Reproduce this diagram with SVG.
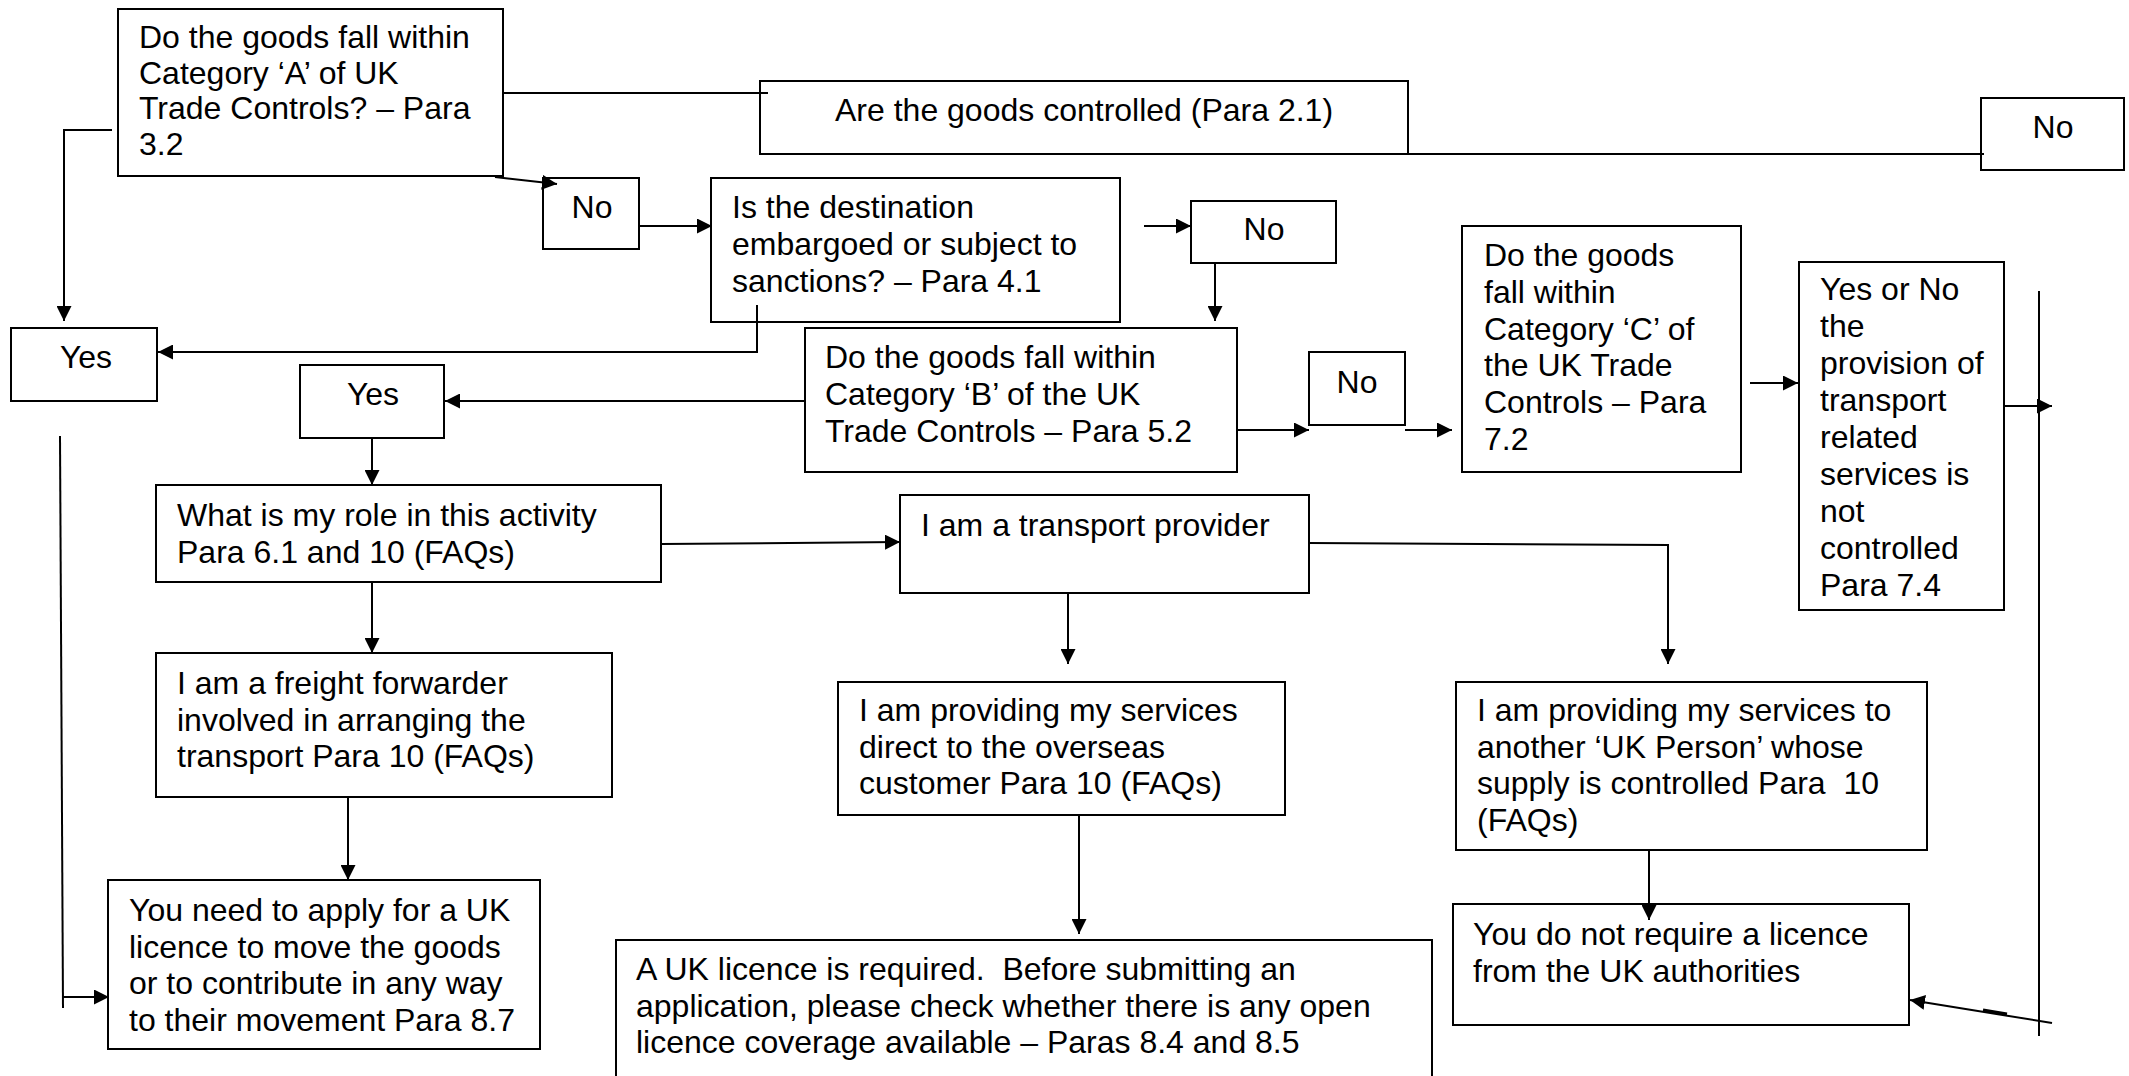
<svg xmlns="http://www.w3.org/2000/svg" width="2129" height="1076" viewBox="0 0 2129 1076">
<style>
.box{fill:#fff;stroke:#000;stroke-width:2}
.t{font-family:"Liberation Sans",Arial,sans-serif;font-size:32px;fill:#000}
.c{text-anchor:middle}
.ln{fill:none;stroke:#000;stroke-width:2}
.ar{marker-end:url(#arr)}
</style>
<defs>
<marker id="arr" markerUnits="userSpaceOnUse" markerWidth="15" markerHeight="15" refX="15" refY="7.5" orient="auto">
<path d="M0,0 L15,7.5 L0,15 Z" fill="#000"/>
</marker>
</defs>
<rect width="2129" height="1076" fill="#fff"/>

<g id="n-catA">
<rect class="box" x="118" y="9" width="385" height="167"/>
<text class="t" x="139" y="48"><tspan x="139">Do the goods fall within</tspan><tspan x="139" dy="35.5">Category ‘A’ of UK</tspan><tspan x="139" dy="35.5">Trade Controls? – Para</tspan><tspan x="139" dy="35.5">3.2</tspan></text>
</g>

<g id="n-controlled">
<rect class="box" x="760" y="81" width="648" height="73"/>
<text class="t" x="835" y="121">Are the goods controlled (Para 2.1)</text>
</g>

<g id="n-no-top">
<rect class="box" x="1981" y="98" width="143" height="72"/>
<text class="t c" x="2053" y="138">No</text>
</g>

<g id="n-no1">
<rect class="box" x="543" y="178" width="96" height="71"/>
<text class="t c" x="592" y="218">No</text>
</g>

<g id="n-dest">
<rect class="box" x="711" y="178" width="409" height="144"/>
<text class="t" x="732" y="218"><tspan x="732">Is the destination</tspan><tspan x="732" dy="37">embargoed or subject to</tspan><tspan x="732" dy="37">sanctions? – Para 4.1</tspan></text>
</g>

<g id="n-no2">
<rect class="box" x="1191" y="201" width="145" height="62"/>
<text class="t c" x="1264" y="240">No</text>
</g>

<g id="n-yes1">
<rect class="box" x="11" y="328" width="146" height="73"/>
<text class="t c" x="86" y="368">Yes</text>
</g>

<g id="n-yes2">
<rect class="box" x="300" y="365" width="144" height="73"/>
<text class="t c" x="373" y="405">Yes</text>
</g>

<g id="n-catB">
<rect class="box" x="805" y="328" width="432" height="144"/>
<text class="t" x="825" y="368"><tspan x="825">Do the goods fall within</tspan><tspan x="825" dy="37">Category ‘B’ of the UK</tspan><tspan x="825" dy="37">Trade Controls – Para 5.2</tspan></text>
</g>

<g id="n-no3">
<rect class="box" x="1309" y="352" width="96" height="73"/>
<text class="t c" x="1357" y="393">No</text>
</g>

<g id="n-catC">
<rect class="box" x="1462" y="226" width="279" height="246"/>
<text class="t" x="1484" y="266"><tspan x="1484">Do the goods</tspan><tspan x="1484" dy="36.8">fall within</tspan><tspan x="1484" dy="36.8">Category ‘C’ of</tspan><tspan x="1484" dy="36.8">the UK Trade</tspan><tspan x="1484" dy="36.8">Controls – Para</tspan><tspan x="1484" dy="36.8">7.2</tspan></text>
</g>

<g id="n-yesno">
<rect class="box" x="1799" y="262" width="205" height="348"/>
<text class="t" x="1820" y="300"><tspan x="1820">Yes or No</tspan><tspan x="1820" dy="37">the</tspan><tspan x="1820" dy="37">provision of</tspan><tspan x="1820" dy="37">transport</tspan><tspan x="1820" dy="37">related</tspan><tspan x="1820" dy="37">services is</tspan><tspan x="1820" dy="37">not</tspan><tspan x="1820" dy="37">controlled</tspan><tspan x="1820" dy="37">Para 7.4</tspan></text>
</g>

<g id="n-role">
<rect class="box" x="156" y="485" width="505" height="97"/>
<text class="t" x="177" y="526"><tspan x="177">What is my role in this activity</tspan><tspan x="177" dy="36.5">Para 6.1 and 10 (FAQs)</tspan></text>
</g>

<g id="n-transport">
<rect class="box" x="900" y="495" width="409" height="98"/>
<text class="t" x="921" y="536">I am a transport provider</text>
</g>

<g id="n-freight">
<rect class="box" x="156" y="653" width="456" height="144"/>
<text class="t" x="177" y="694"><tspan x="177">I am a freight forwarder</tspan><tspan x="177" dy="36.7">involved in arranging the</tspan><tspan x="177" dy="36.7">transport Para 10 (FAQs)</tspan></text>
</g>

<g id="n-direct">
<rect class="box" x="838" y="682" width="447" height="133"/>
<text class="t" x="859" y="721"><tspan x="859">I am providing my services</tspan><tspan x="859" dy="36.7">direct to the overseas</tspan><tspan x="859" dy="36.7">customer Para 10 (FAQs)</tspan></text>
</g>

<g id="n-another">
<rect class="box" x="1456" y="682" width="471" height="168"/>
<text class="t" x="1477" y="721" xml:space="preserve"><tspan x="1477">I am providing my services to</tspan><tspan x="1477" dy="36.7">another ‘UK Person’ whose</tspan><tspan x="1477" dy="36.7">supply is controlled Para  10</tspan><tspan x="1477" dy="36.7">(FAQs)</tspan></text>
</g>

<g id="n-apply">
<rect class="box" x="108" y="880" width="432" height="169"/>
<text class="t" x="129" y="921"><tspan x="129">You need to apply for a UK</tspan><tspan x="129" dy="36.7">licence to move the goods</tspan><tspan x="129" dy="36.7">or to contribute in any way</tspan><tspan x="129" dy="36.7">to their movement Para 8.7</tspan></text>
</g>

<g id="n-nolicence">
<rect class="box" x="1453" y="904" width="456" height="121"/>
<text class="t" x="1473" y="945"><tspan x="1473">You do not require a licence</tspan><tspan x="1473" dy="36.7">from the UK authorities</tspan></text>
</g>

<g id="n-uklicence">
<rect class="box" x="616" y="940" width="816" height="160"/>
<text class="t" x="636" y="980" xml:space="preserve"><tspan x="636">A UK licence is required.  Before submitting an</tspan><tspan x="636" dy="36.5">application, please check whether there is any open</tspan><tspan x="636" dy="36.5">licence coverage available – Paras 8.4 and 8.5</tspan></text>
</g>

<g id="connectors">
<line class="ln" x1="503" y1="93" x2="768" y2="93"/>
<line class="ln" x1="1408" y1="154" x2="1984" y2="154"/>
<polyline class="ln ar" points="112,130 64,130 64,321"/>
<line class="ln ar" x1="495" y1="177" x2="557" y2="184"/>
<line class="ln ar" x1="639" y1="226" x2="712" y2="226"/>
<polyline class="ln ar" points="757,305 757,352 158,352"/>
<line class="ln ar" x1="1144" y1="226" x2="1191" y2="226"/>
<line class="ln ar" x1="1215" y1="263" x2="1215" y2="321"/>
<line class="ln ar" x1="805" y1="401" x2="445" y2="401"/>
<line class="ln ar" x1="1237" y1="430" x2="1309" y2="430"/>
<line class="ln ar" x1="1405" y1="430" x2="1452" y2="430"/>
<line class="ln ar" x1="1750" y1="383" x2="1798" y2="383"/>
<line class="ln ar" x1="2004" y1="406" x2="2052" y2="406"/>
<line class="ln" x1="2039" y1="291" x2="2039" y2="1036"/>
<line class="ln ar" x1="2052" y1="1023" x2="1910" y2="1000"/>
<line class="ln" x1="1983" y1="1010" x2="2007" y2="1014" style="stroke-width:3"/>
<line class="ln" x1="60" y1="436" x2="63" y2="1008"/>
<line class="ln ar" x1="63" y1="997" x2="109" y2="997"/>
<line class="ln ar" x1="372" y1="438" x2="372" y2="485"/>
<line class="ln ar" x1="372" y1="582" x2="372" y2="653"/>
<line class="ln ar" x1="348" y1="797" x2="348" y2="880"/>
<polyline class="ln ar" points="661,544 900,542"/>
<line class="ln ar" x1="1068" y1="593" x2="1068" y2="664"/>
<line class="ln ar" x1="1079" y1="815" x2="1079" y2="934"/>
<polyline class="ln ar" points="1309,543 1668,545 1668,664"/>
<line class="ln ar" x1="1649" y1="850" x2="1649" y2="920"/>
</g>
</svg>
